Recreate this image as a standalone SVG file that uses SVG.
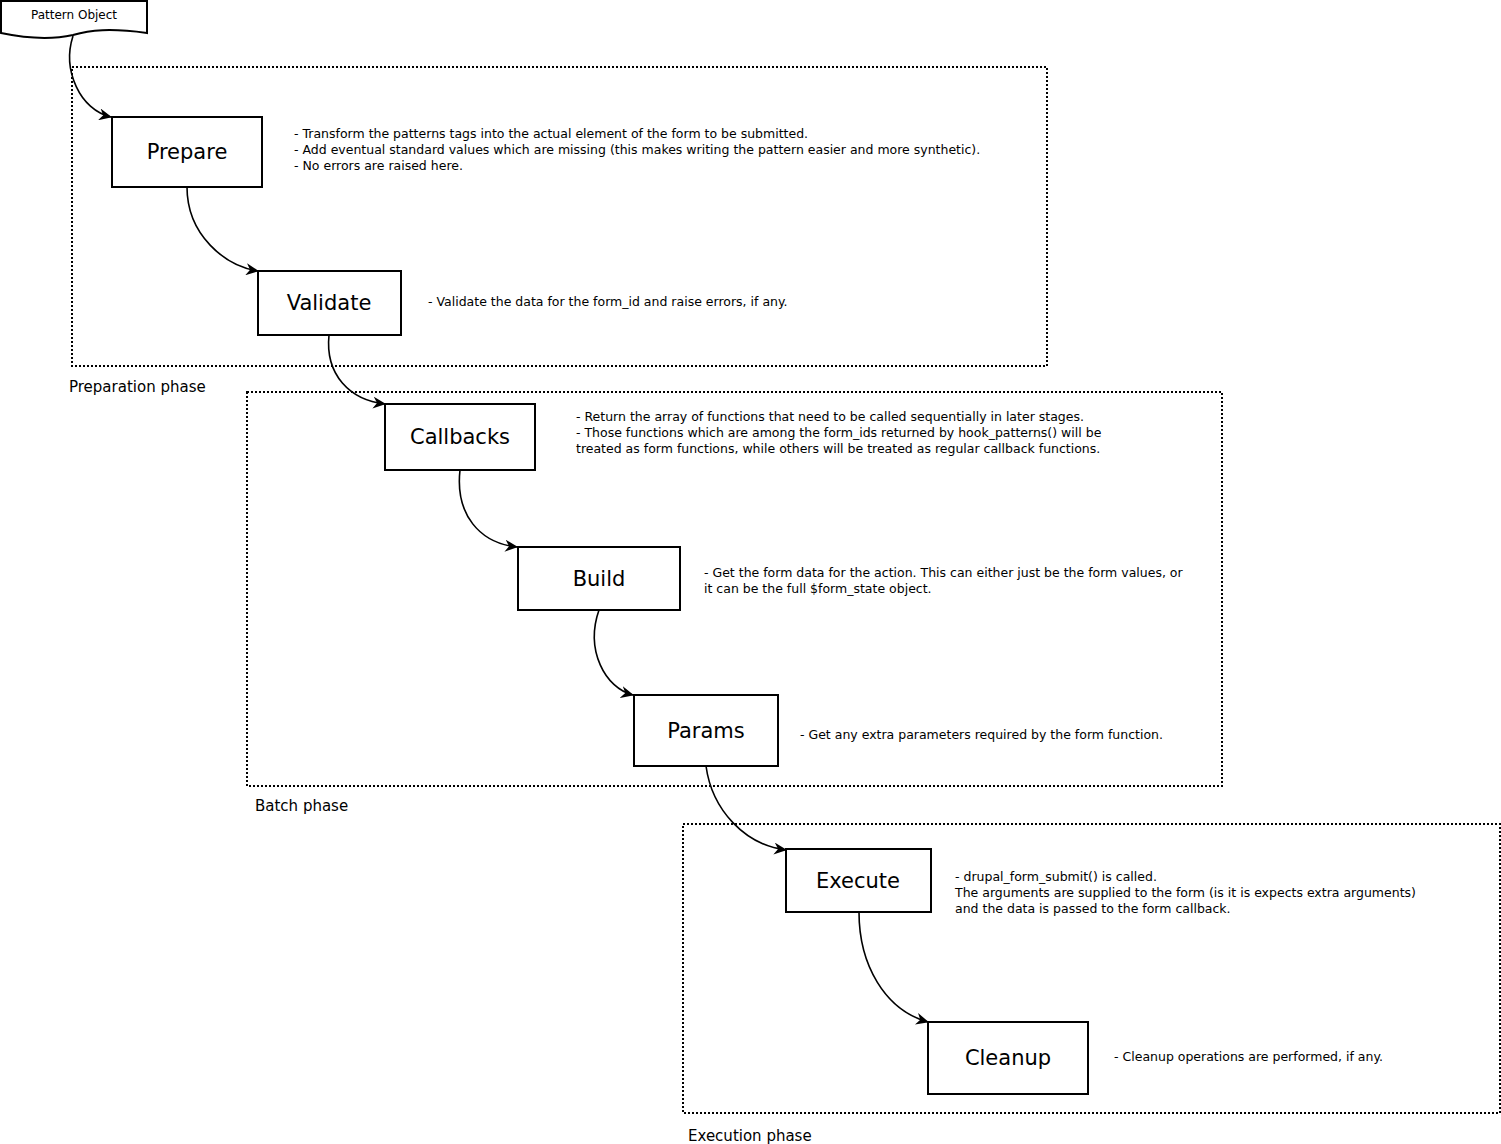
<svg xmlns="http://www.w3.org/2000/svg" width="1501" height="1144" viewBox="0 0 1501 1144">
<style>
text{font-family:"DejaVu Sans",sans-serif;fill:#000}
.box{fill:#fff;stroke:#000;stroke-width:2}
.lbl{font-size:21px;text-anchor:middle}
.d{font-size:12.5px}
.ph{font-size:15px}
.grp{fill:none;stroke:#000;stroke-width:2;stroke-dasharray:2,2}
.c{fill:none;stroke:#000;stroke-width:1.6;marker-end:url(#a)}
</style>
<defs><marker id="a" markerWidth="14" markerHeight="12" refX="12" refY="6" orient="auto" markerUnits="userSpaceOnUse"><path d="M0,0 L13,6 L0,12 L4,6 Z" fill="#000"/></marker></defs>
<rect width="1501" height="1144" fill="#fff"/>
<g id="groups">
<rect class="grp" x="72" y="67" width="975" height="299"/>
<rect class="grp" x="247" y="392" width="975" height="394"/>
<rect class="grp" x="683" y="824" width="817" height="289"/>
<text class="ph" x="69" y="392">Preparation phase</text>
<text class="ph" x="255" y="811">Batch phase</text>
<text class="ph" x="688" y="1141">Execution phase</text>
</g>
<g id="connectors">
<path class="c" d="M73,36 C62,70 80,110 111,117"/>
<path class="c" d="M187,187 C187,235 225,266 258,271"/>
<path class="c" d="M329,335 C325,375 350,400 385,404"/>
<path class="c" d="M460,470 C455,515 480,543 517,547"/>
<path class="c" d="M599,610 C585,650 605,688 633,695"/>
<path class="c" d="M706,766 C712,810 745,845 786,850"/>
<path class="c" d="M859,912 C859,965 885,1010 928,1022"/>
</g>
<g id="pattern"><path class="box" d="M1,1 H147 V33 C110,28 90,30 73,35 C50,40 25,38 1,33 Z"/><text x="74" y="19" font-size="12" text-anchor="middle">Pattern Object</text></g>
<g id="prepare"><rect class="box" x="112" y="117" width="150" height="70"/><text class="lbl" x="187" y="159">Prepare</text>
<text class="d" x="294" y="138">- Transform the patterns tags into the actual element of the form to be submitted.</text>
<text class="d" x="294" y="154">- Add eventual standard values which are missing (this makes writing the pattern easier and more synthetic).</text>
<text class="d" x="294" y="170">- No errors are raised here.</text></g>
<g id="validate"><rect class="box" x="258" y="271" width="143" height="64"/><text class="lbl" x="329" y="310">Validate</text>
<text class="d" x="428" y="306">- Validate the data for the form_id and raise errors, if any.</text></g>
<g id="callbacks"><rect class="box" x="385" y="404" width="150" height="66"/><text class="lbl" x="460" y="444">Callbacks</text>
<text class="d" x="576" y="421">- Return the array of functions that need to be called sequentially in later stages.</text>
<text class="d" x="576" y="437">- Those functions which are among the form_ids returned by hook_patterns() will be</text>
<text class="d" x="576" y="453">treated as form functions, while others will be treated as regular callback functions.</text></g>
<g id="build"><rect class="box" x="518" y="547" width="162" height="63"/><text class="lbl" x="599" y="586">Build</text>
<text class="d" x="704" y="577">- Get the form data for the action. This can either just be the form values, or</text>
<text class="d" x="704" y="593"> it can be the full $form_state object.</text></g>
<g id="params"><rect class="box" x="634" y="695" width="144" height="71"/><text class="lbl" x="706" y="738">Params</text>
<text class="d" x="800" y="739">- Get any extra parameters required by the form function.</text></g>
<g id="execute"><rect class="box" x="786" y="849" width="145" height="63"/><text class="lbl" x="858" y="888">Execute</text>
<text class="d" x="955" y="881">- drupal_form_submit() is called.</text>
<text class="d" x="955" y="897">The arguments are supplied to the form (is it is expects extra arguments)</text>
<text class="d" x="955" y="913">and the data is passed to the form callback.</text></g>
<g id="cleanup"><rect class="box" x="928" y="1022" width="160" height="72"/><text class="lbl" x="1008" y="1065">Cleanup</text>
<text class="d" x="1114" y="1061">- Cleanup operations are performed, if any.</text></g>
</svg>
